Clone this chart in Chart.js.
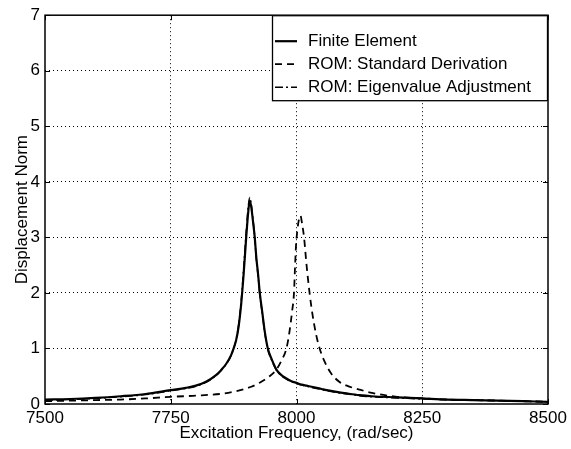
<!DOCTYPE html>
<html>
<head>
<meta charset="utf-8">
<style>
  html, body { margin: 0; padding: 0; background: #fff; }
  #wrap { width: 571px; height: 449px; }
</style>
</head>
<body>
<div id="wrap"><canvas id="respChart" width="571" height="449"></canvas></div>
<script src="https://cdn.jsdelivr.net/npm/chart.js"></script>
<script>
// excitation frequency (rad/sec) and displacement norm
var feFreqs = [7500, 7550, 7600, 7650, 7700, 7750, 7780, 7800, 7820, 7840, 7850, 7860, 7870, 7875,
               7880, 7885, 7890, 7895, 7900, 7904, 7907, 7910, 7914, 7917, 7920, 7924, 7927, 7932,
               7937, 7943, 7950, 7960, 7970, 7980, 7990, 8000, 8010, 8020, 8030, 8040, 8050, 8060,
               8085, 8100, 8125, 8150, 8200, 8250, 8300, 8350, 8400, 8450, 8500];
var finiteElement = [0.08, 0.09, 0.11, 0.14, 0.18, 0.25, 0.29, 0.33, 0.40, 0.52, 0.61, 0.72, 0.88, 1.0,
                     1.15, 1.4, 1.8, 2.35, 3.0, 3.45, 3.66, 3.55, 3.25, 3.0, 2.65, 2.3, 2.0, 1.65,
                     1.3, 1.0, 0.82, 0.62, 0.52, 0.46, 0.41, 0.38, 0.35, 0.33, 0.31, 0.29, 0.27, 0.25,
                     0.21, 0.19, 0.16, 0.14, 0.12, 0.10, 0.08, 0.07, 0.06, 0.05, 0.04];
var romEigen = [0.07, 0.08, 0.10, 0.13, 0.17, 0.24, 0.28, 0.32, 0.39, 0.51, 0.60, 0.71, 0.87, 1.0,
                1.16, 1.43, 1.85, 2.45, 3.1, 3.55, 3.72, 3.6, 3.28, 3.0, 2.62, 2.28, 1.98, 1.63,
                1.28, 0.98, 0.80, 0.61, 0.51, 0.45, 0.40, 0.37, 0.34, 0.32, 0.30, 0.28, 0.26, 0.24,
                0.20, 0.18, 0.15, 0.13, 0.11, 0.09, 0.08, 0.07, 0.06, 0.05, 0.04];

var romFreqs = [7500, 7550, 7600, 7650, 7700, 7750, 7800, 7857, 7880, 7910, 7930, 7945, 7960, 7970,
                7980, 7986, 7991, 7995, 7997, 7999, 8002, 8005, 8008, 8011, 8015, 8020, 8026, 8032,
                8039, 8046, 8055, 8069, 8085, 8100, 8125, 8150, 8200, 8250, 8300, 8350, 8400, 8450, 8500];
var romStandard = [0.05, 0.06, 0.07, 0.08, 0.10, 0.13, 0.15, 0.19, 0.23, 0.31, 0.40, 0.49, 0.62, 0.78,
                   1.0, 1.3, 1.65, 2.0, 2.45, 2.85, 3.15, 3.33, 3.39, 3.25, 3.0, 2.5, 2.0, 1.6,
                   1.25, 1.0, 0.78, 0.55, 0.40, 0.33, 0.26, 0.20, 0.13, 0.10, 0.08, 0.07, 0.06, 0.05, 0.04];

var seriesNames = ['Finite Element', 'ROM: Standard Derivation', 'ROM: Eigenvalue Adjustment'];
var xTicks = [7500, 7750, 8000, 8250, 8500];
var yTicks = [0, 1, 2, 3, 4, 5, 6, 7];

var lineStyles = [
    { width: 2.2, dash: [] },
    { width: 1.8, dash: [7, 5] },
    { width: 1.5, dash: [8, 3, 2, 3] }
];

function toPoints(fs, vals) {
    return fs.map(function (f, i) { return { x: f, y: vals[i] }; });
}

function gridColor(c) {
    var v = c.tick ? c.tick.value : null;
    if (v === xTicks[0] || v === xTicks[xTicks.length - 1] || v === yTicks[0] || v === yTicks[yTicks.length - 1]) {
        return 'rgba(0,0,0,0)';
    }
    return '#000';
}

var fontFamily = '"Liberation Sans", Arial, sans-serif';

// frame, inward tick marks and the boxed legend in the upper right
var matlabLook = {
    id: 'matlabLook',
    afterDatasetsDraw: function (chart) {
        var ctx = chart.ctx, a = chart.chartArea;
        var xs = chart.scales.x, ys = chart.scales.y;
        ctx.save();
        ctx.strokeStyle = '#000';
        ctx.lineWidth = 1.5;
        ctx.setLineDash([]);
        ctx.strokeRect(a.left, a.top, a.right - a.left, a.bottom - a.top);
        ctx.lineWidth = 1;
        ctx.beginPath();
        xTicks.forEach(function (t) {
            var px = Math.round(xs.getPixelForValue(t)) + 0.5;
            ctx.moveTo(px, a.bottom); ctx.lineTo(px, a.bottom - 5);
            ctx.moveTo(px, a.top); ctx.lineTo(px, a.top + 5);
        });
        yTicks.forEach(function (t) {
            var py = Math.round(ys.getPixelForValue(t)) + 0.5;
            ctx.moveTo(a.left, py); ctx.lineTo(a.left + 5, py);
            ctx.moveTo(a.right, py); ctx.lineTo(a.right - 5, py);
        });
        ctx.stroke();
        ctx.restore();
    },
    afterDraw: function (chart) {
        var ctx = chart.ctx, a = chart.chartArea;
        var bx = 272, by = a.top, bw = a.right - 272, bh = 86;
        ctx.save();
        ctx.fillStyle = '#fff';
        ctx.fillRect(bx, by, bw, bh);
        ctx.strokeStyle = '#000';
        ctx.lineWidth = 1.3;
        ctx.setLineDash([]);
        ctx.strokeRect(bx + 0.5, by + 0.5, bw - 1, bh - 1);
        ctx.font = '17px ' + fontFamily;
        ctx.fillStyle = '#000';
        ctx.textBaseline = 'middle';
        seriesNames.forEach(function (name, i) {
            var y = by + 26 + i * 23;
            ctx.lineWidth = lineStyles[i].width;
            ctx.setLineDash(lineStyles[i].dash);
            ctx.beginPath();
            ctx.moveTo(bx + 3, y);
            ctx.lineTo(bx + 25, y);
            ctx.stroke();
            ctx.setLineDash([]);
            ctx.fillText(name, bx + 36, y);
        });
        ctx.restore();
    }
};

var ctx = document.getElementById('respChart').getContext('2d');
var respChart = new Chart(ctx, {
    type: 'line',
    data: {
        datasets: [
            { vals: finiteElement, fs: feFreqs },
            { vals: romStandard, fs: romFreqs },
            { vals: romEigen, fs: feFreqs }
        ].map(function (s, i) {
            return {
                label: seriesNames[i],
                data: toPoints(s.fs, s.vals),
                borderColor: '#000',
                backgroundColor: '#000',
                borderWidth: lineStyles[i].width,
                borderDash: lineStyles[i].dash,
                pointRadius: 0,
                fill: false,
                cubicInterpolationMode: 'monotone'
            };
        })
    },
    options: {
        responsive: false,
        animation: false,
        layout: { padding: { left: 0, right: 23, top: 14, bottom: 0 } },
        plugins: {
            legend: { display: false },
            tooltip: { enabled: false }
        },
        scales: {
            x: {
                type: 'linear',
                min: 7500,
                max: 8500,
                afterFit: function (s) { s.height = 45; },
                afterBuildTicks: function (s) { s.ticks = xTicks.map(function (v) { return { value: v }; }); },
                ticks: {
                    color: '#000',
                    padding: 4,
                    maxRotation: 0,
                    font: { family: fontFamily, size: 17 },
                    callback: function (v) { return String(v); }
                },
                grid: { color: gridColor, lineWidth: 1, drawTicks: false },
                border: { display: false, dash: [1, 3] },
                title: {
                    display: true,
                    text: 'Excitation Frequency, (rad/sec)',
                    color: '#000',
                    font: { family: fontFamily, size: 17 },
                    padding: { top: 0, bottom: 5 }
                }
            },
            y: {
                type: 'linear',
                min: 0,
                max: 7,
                afterFit: function (s) { s.width = 45; },
                afterBuildTicks: function (s) { s.ticks = yTicks.map(function (v) { return { value: v }; }); },
                ticks: {
                    color: '#000',
                    padding: 5,
                    font: { family: fontFamily, size: 17 },
                    callback: function (v) { return String(v); }
                },
                grid: { color: gridColor, lineWidth: 1, drawTicks: false },
                border: { display: false, dash: [1, 3] },
                title: {
                    display: true,
                    text: 'Displacement Norm',
                    color: '#000',
                    font: { family: fontFamily, size: 17 },
                    padding: { top: 12, bottom: 0 }
                }
            }
        }
    },
    plugins: [matlabLook]
});
</script>
</body>
</html>
